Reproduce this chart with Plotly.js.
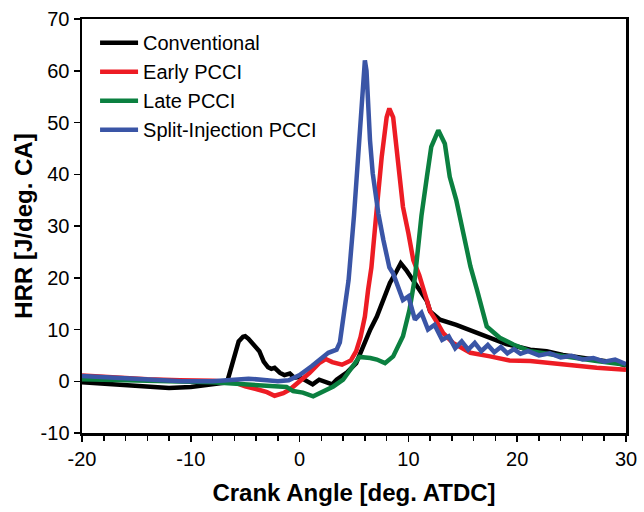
<!DOCTYPE html>
<html>
<head>
<meta charset="utf-8">
<script src="https://cdn.plot.ly/plotly-3.0.1.min.js"></script>
<style>html,body{margin:0;padding:0;background:#fff;}#chart{width:644px;height:512px;}</style>
</head>
<body>
<div id="chart"></div>
<script>
// Conventional
const convX = [-20,-18,-16,-14,-12,-10,-9,-8,-7,-6.6,-6.3,-6.0,-5.6,-5.2,-5.0,-4.7,-4.4,-4.0,-3.7,-3.3,-2.9,-2.6,-2.3,-1.8,-1.4,-0.9,-0.5,0,0.6,1.2,1.8,2.4,3.0,3.4,4.3,5.2,5.8,6.5,7.1,7.7,8.3,8.9,9.3,9.8,10.4,11.0,11.7,12.0,12.9,14.4,16.0,17.5,19.0,21.2,22.7,24.2,25.8,27.3,29.1,30];
const convY = [-0.2,-0.5,-0.8,-1.2,-1.3,-1.1,-0.8,-0.5,-0.3,0.3,2.5,4.5,7.7,8.6,8.7,8.2,7.4,6.6,5.8,3.8,2.7,2.4,2.6,1.6,1.2,1.5,0.7,0.8,0,-0.6,0.3,-0.1,-0.6,0.3,1.6,3.5,6.7,10,12.5,15.7,19,21.2,22.8,21.5,19.7,17.8,15.5,13.5,11.9,10.9,9.6,8.4,7.2,6.1,5.8,5.1,4.6,4.2,3.6,3.0];
// Early PCCI
const earlyX = [-20,-17,-14,-11,-8,-6,-5,-4,-3,-2.3,-1.5,-0.9,0,0.9,1.8,2.4,3.0,3.9,4.7,5.2,5.6,6.0,6.3,6.6,7.1,7.55,8.0,8.25,8.6,8.9,9.2,9.5,10.0,10.45,11.0,11.4,12.0,12.6,13.2,14.1,15.7,17.5,19.3,21.2,24.2,27.3,30];
const earlyY = [1.1,0.7,0.4,0.2,0.1,-0.2,-1.0,-1.5,-2.1,-2.8,-2.3,-1.6,0,1.6,3.5,4.3,3.7,3.2,4.0,5.8,8.5,12.5,17.7,22.0,33.5,43.4,51,52.7,51,44.6,38.9,33.7,28.6,23.4,20.5,17.7,13.5,11.5,9.3,7.4,5.5,4.8,4.0,3.9,3.2,2.6,2.2];
// Late PCCI
const lateX = [-20,-16,-12,-8,-5,-2.4,-1.2,-0.6,0.3,1.25,2.2,3.1,4.0,4.9,5.5,6.5,7.1,7.85,8.6,9.5,10.1,10.6,10.9,11.2,11.7,12.1,12.75,13.35,13.8,14.4,15.05,15.7,16.3,16.75,17.2,18.4,19.65,21.2,24.2,27.3,30];
const lateY = [0.4,0.1,0,-0.2,-0.6,-1.0,-1.1,-1.9,-2.2,-2.9,-1.9,-1.0,0.3,2.9,4.7,4.5,4.2,3.5,4.8,8.7,13.8,20,26,32,39.5,45.3,48.5,45.9,39.5,35,28.6,22.2,17.7,14.5,10.6,8.4,7.1,5.8,4.8,3.9,3.2];
// Split-Injection PCCI
const splitX = [-20,-16,-12,-10.8,-8,-6,-4.7,-3,-2,-1,0,1.1,2,2.64,3.4,3.7,4.0,4.5,5.0,5.5,5.85,6.0,6.15,6.3,6.47,6.72,7.24,7.7,8.25,8.6,8.9,9.4,9.5,10.0,10.6,11.2,11.8,12.4,13.1,13.7,14.3,14.9,15.5,16.1,16.7,17.3,17.9,18.5,19.1,19.7,20.3,21,22,23,24,25,26,27,28,29,30];
const splitY = [1.0,0.6,0.2,0,0,0.3,0.5,0.2,0,0.2,1.2,2.9,4.5,5.5,6.1,7.5,12,19.5,32,48,60,62,60,53,46.6,40.2,32.4,27.3,22,20.8,19,16.5,15.7,16.4,11.9,13.2,10,10.9,8,8.7,6.4,7.7,6.1,7.4,5.8,7,5.6,6.6,5.4,6.2,5.3,5.8,5.0,5.4,4.6,4.9,4.2,4.5,3.8,4.2,3.3];

const names = ["Conventional","Early PCCI","Late PCCI","Split-Injection PCCI"];
const colors = ["#000000","#ed1c24","#0b8040","#3a55a6"];
const xs = [convX, earlyX, lateX, splitX];
const ys = [convY, earlyY, lateY, splitY];

const xTickVals = [-20,-10,0,10,20,30];
const xTickText = ["-20","-10","0","10","20","30"];
const yTickVals = [-10,0,10,20,30,40,50,60,70];
const yTickText = ["-10","0","10","20","30","40","50","60","70"];

const font = "Liberation Sans, Arial, sans-serif";
const traces = names.map((n,i)=>({
  x: xs[i], y: ys[i], name: n, type: "scatter", mode: "lines",
  line: {color: colors[i], width: 4.5}
}));

const layout = {
  width: 644, height: 512,
  margin: {l: 82, r: 18, t: 19, b: 79, pad: 0},
  paper_bgcolor: "#fff", plot_bgcolor: "#fff",
  font: {family: font, color: "#000", size: 20},
  showlegend: true,
  legend: {x: 0.024, y: 0.99, xanchor: "left", yanchor: "top",
    bgcolor: "rgba(0,0,0,0)", font: {size: 20, family: font}, itemwidth: 38},
  xaxis: {
    range: [-20, 30], tickmode: "array", tickvals: xTickVals, ticktext: xTickText,
    showgrid: false, zeroline: false,
    showline: true, linecolor: "#000", linewidth: 2.5, mirror: true,
    ticks: "outside", ticklen: 6, tickwidth: 1.5, tickcolor: "#000",
    minor: {dtick: 2, tick0: -20, ticks: "outside", ticklen: 5, tickwidth: 1.5, tickcolor: "#000", showgrid: false},
    tickfont: {size: 20, family: font},
    title: {text: "<b>Crank Angle [deg. ATDC]</b>", font: {size: 24, family: font}, standoff: 16}
  },
  yaxis: {
    range: [-10, 70], tickmode: "array", tickvals: yTickVals, ticktext: yTickText,
    showgrid: false, zeroline: false,
    showline: true, linecolor: "#000", linewidth: 2.5, mirror: true,
    ticks: "outside", ticklen: 6, tickwidth: 1.5, tickcolor: "#000",
    tickfont: {size: 20, family: font},
    title: {text: "<b>HRR [J/deg. CA]</b>", font: {size: 24, family: font}, standoff: 1}
  }
};
Plotly.newPlot("chart", traces, layout, {displayModeBar: false, staticPlot: true});
</script>
</body>
</html>
